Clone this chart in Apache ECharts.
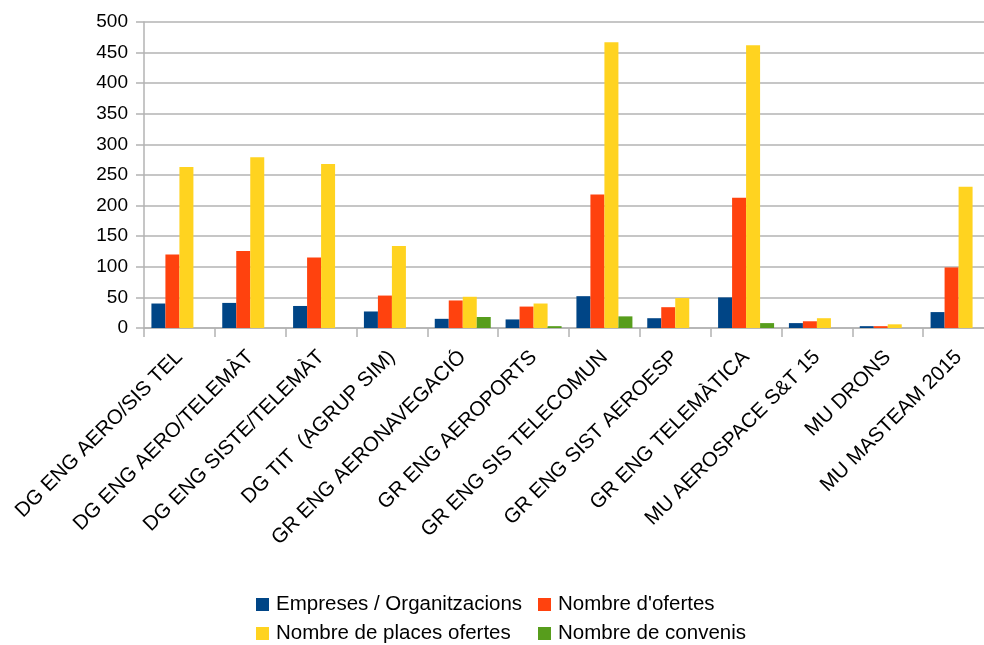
<!DOCTYPE html>
<html>
<head>
<meta charset="utf-8">
<script src="https://cdn.jsdelivr.net/npm/echarts@6/dist/echarts.min.js"></script>
<style>html,body{margin:0;padding:0;background:#fff}#c{width:984px;height:645px}</style>
</head>
<body>
<div id="c"></div>
<script>
const categories = ["DG ENG AERO/SIS TEL","DG ENG AERO/TELEMÀT","DG ENG SISTE/TELEMÀT","DG TIT  (AGRUP SIM)","GR ENG AERONAVEGACIÓ","GR ENG AEROPORTS","GR ENG SIS TELECOMUN","GR ENG SIST AEROESP","GR ENG TELEMÀTICA","MU AEROSPACE S&T 15","MU DRONS","MU MASTEAM 2015"];
const empreses = [40, 41, 36, 27, 15, 14, 52, 16, 50, 8, 3, 26];
const ofertes  = [120, 126, 115, 53, 45, 35, 218, 34, 213, 11, 3, 99];
const places   = [263, 279, 268, 134, 51, 40, 467, 49, 462, 16, 6, 231];
const convenis = [0, 0, 0, 0, 18, 3, 19, 0, 8, 0, 0, 0];
const seriesNames = ["Empreses / Organitzacions","Nombre d'ofertes","Nombre de places ofertes","Nombre de convenis"];
const yTicks = {min: 0, max: 500, interval: 50};

const colors = ["#004586","#ff420e","#ffd320","#579d1c"];
const font = "Liberation Sans, Arial, sans-serif";
const chart = echarts.init(document.getElementById('c'));
const vals = [empreses, ofertes, places, convenis];
const legendPos = [[256, 594], [538, 594], [256, 623], [538, 623]];
chart.setOption({
  animation: false,
  color: colors,
  grid: {left: 144, width: 850, top: 22, bottom: 317, containLabel: false, outerBoundsMode: 'none'},
  legend: seriesNames.map((n, i) => ({
    data: [n], left: legendPos[i][0], top: legendPos[i][1], padding: 0,
    itemWidth: 13, itemHeight: 13, icon: 'rect', selectedMode: false,
    textStyle: {fontFamily: font, fontSize: 20.5, color: '#000', padding: [0, 0, 0, 2]}
  })),
  xAxis: {
    type: 'category', data: categories,
    axisLine: {lineStyle: {color: '#b3b3b3', width: 1.5}},
    axisTick: {show: true, length: 9, lineStyle: {color: '#b3b3b3', width: 1.5}},
    axisLabel: {rotate: 45, interval: 0, margin: 26, fontFamily: font, fontSize: 20.5, color: '#000'}
  },
  yAxis: {
    type: 'value', min: yTicks.min, max: yTicks.max, interval: yTicks.interval,
    axisLine: {show: true, lineStyle: {color: '#b3b3b3', width: 1.5}},
    axisTick: {show: true, length: 8, lineStyle: {color: '#b3b3b3', width: 1.5}},
    splitLine: {lineStyle: {color: '#b3b3b3', width: 1.5}},
    axisLabel: {margin: 16, fontFamily: font, fontSize: 19, color: '#000'}
  },
  series: seriesNames.map((n, i) => ({
    name: n, type: 'bar', data: vals[i], barWidth: 14, barGap: '0%', barCategoryGap: '21%'
  }))
});
</script>
</body>
</html>
